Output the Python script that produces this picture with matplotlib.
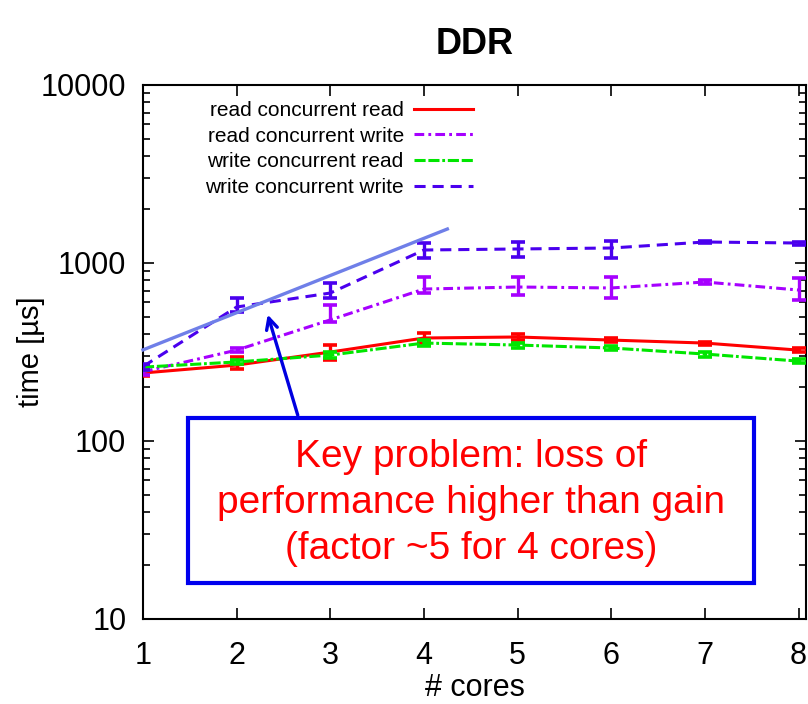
import matplotlib
matplotlib.use('Agg')
import matplotlib.pyplot as plt
from matplotlib.patches import Rectangle
import numpy as np

plt.rcParams['font.family'] = ['Liberation Sans', 'DejaVu Sans']
plt.rcParams['lines.scale_dashes'] = False

# data (time in microseconds)
cores = [1, 2, 3, 4, 5, 6, 7, 8]

rcr = [241, 267, 316, 379, 384, 369, 355, 324]
rcr_lo = [232, 254, 285, 355, 370, 360, 348, 315]
rcr_hi = [250, 297, 346, 405, 398, 378, 362, 333]

rcw = [245, 324, 479, 714, 733, 724, 782, 705]
rcw_lo = [235, 315, 466, 678, 661, 636, 765, 617]
rcw_hi = [255, 334, 580, 834, 834, 834, 800, 822]

wcr = [260, 278, 304, 355, 346, 333, 308, 281]
wcr_lo = [252, 270, 292, 340, 335, 325, 298, 273]
wcr_hi = [268, 286, 318, 370, 357, 341, 318, 289]

wcw = [262, 566, 678, 1183, 1199, 1214, 1312, 1295]
wcw_lo = [252, 531, 636, 1067, 1081, 1067, 1290, 1270]
wcw_hi = [272, 636, 772, 1295, 1312, 1330, 1335, 1320]

labels = ['read concurrent read', 'read concurrent write',
          'write concurrent read', 'write concurrent write']
colors = ['#ff0000', '#a600ff', '#00e600', '#4a00ee']
dashes = [None, (7, 3, 2, 3), (8, 2, 8, 2, 2, 2), (8, 5)]

# trend line and annotation
trend_x = [1, 4.25]
trend_y = [325, 1552]
note = 'Key problem: loss of\nperformance higher than gain\n(factor ~5 for 4 cores)'

fig = plt.figure(figsize=(8.08, 7.04), dpi=100)
ax = fig.add_axes([143 / 808, 85 / 704, 663 / 808, 534 / 704])

series = [(rcr, rcr_lo, rcr_hi), (rcw, rcw_lo, rcw_hi),
          (wcr, wcr_lo, wcr_hi), (wcw, wcw_lo, wcw_hi)]
for (y, lo, hi), lab, c, d in zip(series, labels, colors, dashes):
    y = np.array(y)
    err = [y - np.array(lo), np.array(hi) - y]
    ax.errorbar(cores, y, yerr=err, fmt='none', ecolor=c, elinewidth=2.4,
                capsize=5, capthick=2.6, zorder=3)
    line, = ax.plot(cores, y, color=c, lw=2.2, label=lab, zorder=3)
    if d is not None:
        line.set_dashes(d)

ax.plot(trend_x, trend_y, color='#6f7fe8', lw=2.4, zorder=4, clip_on=False)

ax.set_yscale('log')
ax.set_xlim(1, 8.08)
ax.set_ylim(10, 10000)
ax.set_xticks(cores)
ax.set_yticks([10, 100, 1000, 10000])
ax.set_yticklabels(['10', '100', '1000', '10000'])
ax.tick_params(which='both', direction='in', top=True, right=True,
               labelsize=22, width=1.2)
ax.tick_params(which='major', length=8)
ax.tick_params(which='minor', length=5)
ax.tick_params(axis='y', pad=12)
ax.tick_params(axis='x', pad=16)
for s in ax.spines.values():
    s.set_linewidth(1.5)

ax.set_xlabel('# cores', fontsize=22, labelpad=1)
ax.set_ylabel('time [µs]', fontsize=21, labelpad=-3)
ax.set_title('DDR', fontsize=26, fontweight='bold', pad=22)

ax.legend(loc='upper right', bbox_to_anchor=(0.497, 0.97), frameon=False,
          markerfirst=False, fontsize=15, handlelength=2.8,
          handletextpad=0.5, labelspacing=0.32, borderpad=0,
          borderaxespad=0)

ax.annotate('', xy=(2.323, 531), xytext=(2.661, 135),
            arrowprops=dict(arrowstyle='->,head_length=0.8,head_width=0.4',
                            color='#0000e0', lw=2.4), zorder=5)

fig.patches.append(Rectangle((188 / 808, 121 / 704), 566 / 808, 165 / 704,
                             transform=fig.transFigure, facecolor='white',
                             edgecolor='#0000ee', lw=3, zorder=6))
fig.text(471 / 808, 201 / 704, note, ha='center', va='center', color='#ff0000',
         fontsize=28, linespacing=1.35, zorder=7)

fig.savefig('out.png', dpi=100)
